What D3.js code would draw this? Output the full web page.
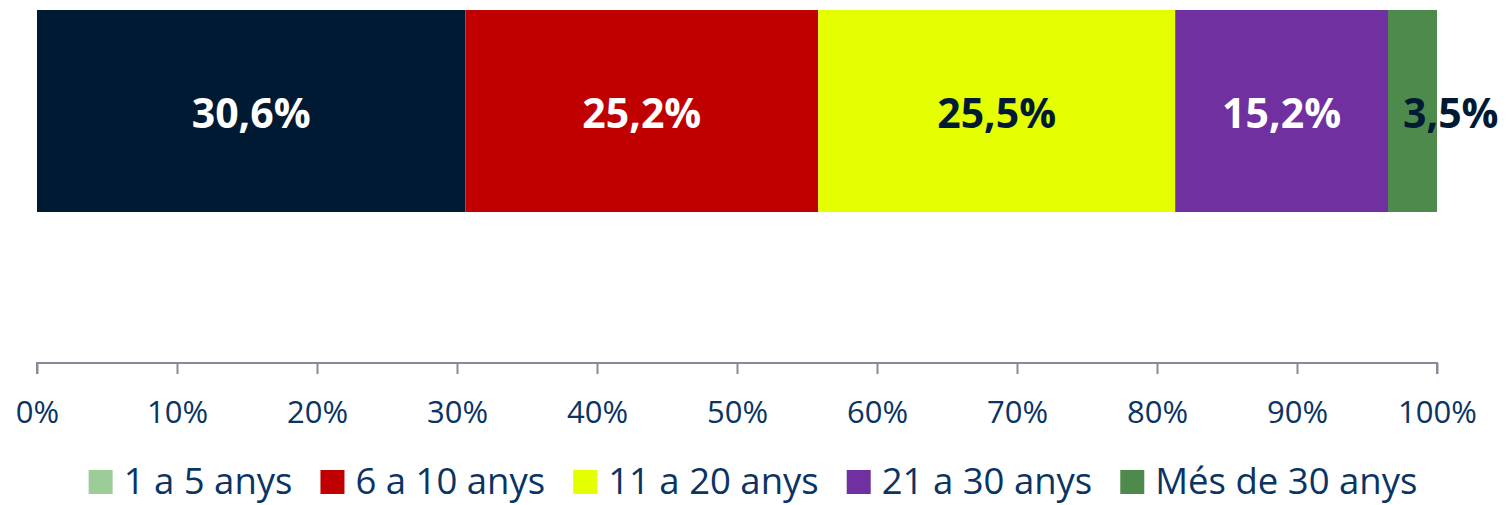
<!DOCTYPE html>
<html>
<head>
<meta charset="utf-8">
<script src="https://cdn.jsdelivr.net/npm/d3@7"></script>
<style>
  html, body { margin: 0; padding: 0; background: #fff; }
  svg { display: block; font-family: "Open Sans", sans-serif; }
</style>
</head>
<body>
<svg id="chart" width="1510" height="505"></svg>
<script>
// data
var categories = ["1 a 5 anys", "6 a 10 anys", "11 a 20 anys", "21 a 30 anys", "Més de 30 anys"];
var values = [30.6, 25.2, 25.5, 15.2, 3.5];
var barColors = ["#011a33", "#c00000", "#e3ff00", "#7030a0", "#4e8a4c"];
var legendColors = ["#9ccc98", "#c00000", "#e3ff00", "#7030a0", "#4e8a4c"];
var labelColors = ["#ffffff", "#ffffff", "#011a33", "#ffffff", "#011a33"];
var tickValues = [0, 10, 20, 30, 40, 50, 60, 70, 80, 90, 100];

var svg = d3.select("#chart");
var margin = {left: 37, right: 73};
var width = 1510 - margin.left - margin.right;

var x = d3.scaleLinear().domain([0, 100]).range([margin.left, margin.left + width]);
var barTop = 10, barBottom = 212, axisY = 363;

// stack the segments
var acc = 0;
var segs = values.map(function(v, i) {
  var s = {i: i, v: v, x0: acc, x1: acc + v};
  acc += v;
  return s;
});

svg.append("g").selectAll("rect")
  .data(segs)
  .enter().append("rect")
  .attr("x", function(d) { return x(d.x0); })
  .attr("y", barTop)
  .attr("width", function(d) { return x(d.x1) - x(d.x0); })
  .attr("height", barBottom - barTop)
  .attr("fill", function(d) { return barColors[d.i]; });

var labels = svg.append("g").selectAll("text")
  .data(segs)
  .enter().append("text")
  .attr("y", 128)
  .attr("font-size", 41)
  .attr("font-weight", "bold")
  .attr("fill", function(d) { return labelColors[d.i]; })
  .text(function(d) { return d3.format(".1f")(d.v).replace(".", ",") + "%"; });

labels.each(function(d) {
  var t = d3.select(this);
  var w = this.getComputedTextLength();
  var segW = x(d.x1) - x(d.x0);
  if (w > segW) {
    // too narrow: start near left edge and spill over
    t.attr("x", x(d.x0) + 15).attr("text-anchor", "start");
  } else {
    t.attr("x", (x(d.x0) + x(d.x1)) / 2).attr("text-anchor", "middle");
  }
});

// axis
var axis = svg.append("g")
  .attr("transform", "translate(0," + axisY + ")")
  .call(d3.axisBottom(x).tickValues(tickValues).tickSize(11).tickFormat(function(d) { return d + "%"; }));

axis.select(".domain").attr("stroke", "#878b99").attr("stroke-width", 2)
  .attr("d", "M" + x(0) + ",11V0H" + x(100) + "V11");
axis.selectAll(".tick line").attr("stroke", "#878b99").attr("stroke-width", 2);
axis.selectAll(".tick text")
  .attr("y", 60).attr("dy", 0)
  .attr("font-size", 31)
  .attr("font-family", "'Open Sans', sans-serif")
  .attr("fill", "#0a3463");

// legend
var legend = svg.append("g").attr("font-size", 36.5).attr("fill", "#0a3463");
var items = legend.selectAll("g")
  .data(categories)
  .enter().append("g");

items.append("rect")
  .attr("width", 24).attr("height", 24)
  .attr("y", 470)
  .attr("fill", function(d, i) { return legendColors[i]; });

items.append("text")
  .attr("y", 494)
  .text(function(d) { return d; });

var pos = 0;
items.each(function() {
  var g = d3.select(this);
  var w = g.select("text").node().getComputedTextLength();
  g.select("rect").attr("x", pos);
  g.select("text").attr("x", pos + 35);
  pos += 35 + w + 28;
});
var total = pos - 28;
legend.attr("transform", "translate(" + (753 - total / 2) + ",0)");
</script>
</body>
</html>
